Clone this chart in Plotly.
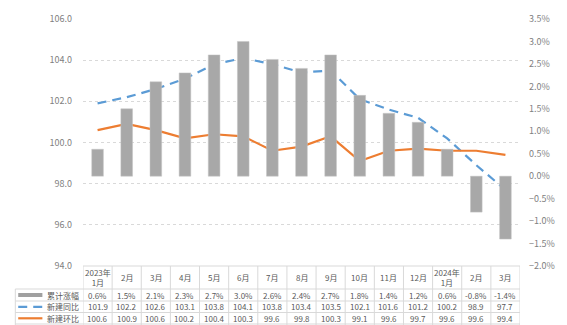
import plotly.graph_objects as go

cats = ["2023-01","2023-02","2023-03","2023-04","2023-05","2023-06","2023-07","2023-08",
        "2023-09","2023-10","2023-11","2023-12","2024-01","2024-02","2024-03"]
header = ["2023年<br>1月","2月","3月","4月","5月","6月","7月","8月","9月","10月","11月","12月",
          "2024年<br>1月","2月","3月"]
cum = [0.6,1.5,2.1,2.3,2.7,3.0,2.6,2.4,2.7,1.8,1.4,1.2,0.6,-0.8,-1.4]
yoy = [101.9,102.2,102.6,103.1,103.8,104.1,103.8,103.4,103.5,102.1,101.6,101.2,100.2,98.9,97.7]
mom = [100.6,100.9,100.6,100.2,100.4,100.3,99.6,99.8,100.3,99.1,99.6,99.7,99.6,99.6,99.4]
names = ["累计涨幅","新建同比","新建环比"]

W, H = 567, 325
L, R, T, B = 83, 32, 19, 59
PH = H - T - B
PW = W - L - R
def py(p):  # pixel y -> paper
    return (H - B - p) / PH
def px(p):
    return (p - L) / PW

FONT = "Noto Sans CJK SC"
TXT = "#595959"
BORDER = "#d9d9d9"

fig = go.Figure()
fig.add_trace(go.Bar(x=cats, y=cum, name=names[0], yaxis="y2",
                     marker=dict(color="#a6a6a6", line=dict(color="#c4c4c4", width=0.5),
                                 pattern=dict(shape=".", fgcolor="#969696", bgcolor="#adadad",
                                              size=2, solidity=0.5))))
fig.add_trace(go.Scatter(x=cats, y=yoy, name=names[1], mode="lines",
                         line=dict(color="#5b9bd5", width=2.2, dash="9px,6px")))
fig.add_trace(go.Scatter(x=cats, y=mom, name=names[2], mode="lines",
                         line=dict(color="#ed7d31", width=2.2)))

shapes = []
anns = []
n = len(cats)
# horizontal table borders
shapes.append(dict(type="line", xref="paper", yref="paper", x0=0, x1=1, y0=py(266), y1=py(266),
                   line=dict(color=BORDER, width=1)))
for yy in [289, 301, 312.5, 324]:
    shapes.append(dict(type="line", xref="paper", yref="paper", x0=px(13), x1=1, y0=py(yy), y1=py(yy),
                       line=dict(color=BORDER, width=1)))
# vertical borders
for i in range(n + 1):
    shapes.append(dict(type="line", xref="x", yref="paper", x0=i - 0.5, x1=i - 0.5,
                       y0=py(266), y1=py(325), line=dict(color=BORDER, width=1)))
shapes.append(dict(type="line", xref="paper", yref="paper", x0=px(13), x1=px(13),
                   y0=py(289), y1=py(325), line=dict(color=BORDER, width=1)))

row_y = [295, 306.8, 318.3]
# legend keys
shapes.append(dict(type="line", xref="paper", yref="paper", x0=px(16), x1=px(41),
                   y0=py(row_y[0]), y1=py(row_y[0]), line=dict(color="#a0a0a0", width=4)))
shapes.append(dict(type="line", xref="paper", yref="paper", x0=px(16), x1=px(41),
                   y0=py(row_y[1]), y1=py(row_y[1]), line=dict(color="#5b9bd5", width=2.2, dash="9px,6px")))
shapes.append(dict(type="line", xref="paper", yref="paper", x0=px(16), x1=px(41),
                   y0=py(row_y[2]), y1=py(row_y[2]), line=dict(color="#ed7d31", width=2.2)))
for k in range(3):
    anns.append(dict(xref="paper", yref="paper", x=px(44), y=py(row_y[k]), text=names[k],
                     showarrow=False, xanchor="left", yanchor="middle",
                     font=dict(family=FONT, size=8, color=TXT)))

for i, c in enumerate(cats):
    anns.append(dict(xref="x", yref="paper", x=c, y=py(277.5), text=header[i], showarrow=False,
                     xanchor="center", yanchor="middle",
                     font=dict(family=FONT, size=8, color=TXT)))
    vals = [f"{cum[i]:.1f}%", f"{yoy[i]:.1f}", f"{mom[i]:.1f}"]
    for k in range(3):
        anns.append(dict(xref="x", yref="paper", x=c, y=py(row_y[k]), text=vals[k], showarrow=False,
                         xanchor="center", yanchor="middle",
                         font=dict(family=FONT, size=8, color=TXT)))

fig.update_layout(
    width=W, height=H, margin=dict(l=L, r=R, t=T, b=B, pad=0),
    paper_bgcolor="white", plot_bgcolor="white", showlegend=False,
    bargap=0.6,
    font=dict(family=FONT, size=9, color=TXT),
    xaxis=dict(type="category", range=[-0.5, n - 0.5], showticklabels=False, showgrid=False,
               zeroline=False, showline=False, ticks=""),
    yaxis=dict(range=[94, 106], dtick=2, tickformat=".1f", showgrid=True, gridcolor=BORDER,
               griddash="dot", gridwidth=1, zeroline=False, showline=False, ticks="",
               ticklabelstandoff=10, tickfont=dict(family=FONT, size=9, color="#7f7f7f")),
    yaxis2=dict(range=[-2.0, 3.5], dtick=0.5, tickformat=".1f", ticksuffix="%", overlaying="y",
                side="right", showgrid=False, zeroline=False, showline=False, ticks="",
                ticklabelstandoff=8, tickfont=dict(family=FONT, size=9, color="#7f7f7f")),
    shapes=shapes, annotations=anns,
)
fig.write_html("out.html")
